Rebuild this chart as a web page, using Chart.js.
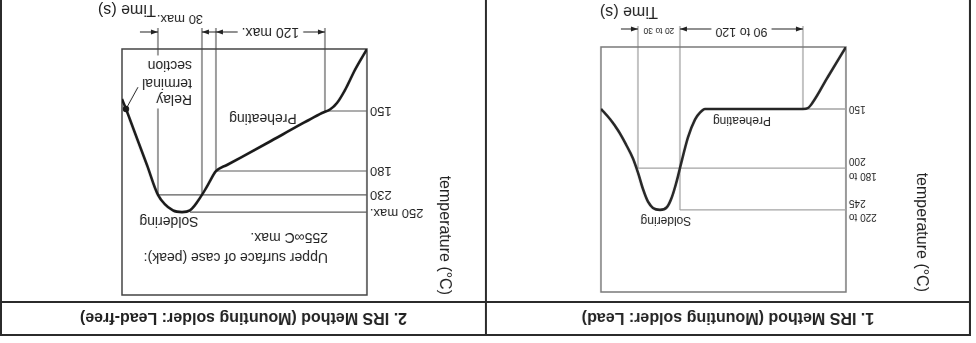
<!DOCTYPE html>
<html>
<head>
<meta charset="utf-8">
<script src="https://cdn.jsdelivr.net/npm/chart.js@4.4.1/dist/chart.umd.min.js"></script>
<style>
html, body { margin: 0; padding: 0; background: #fff; overflow: hidden; }
/* the source sheet is scanned upside down, so the whole page is turned */
#page { position: relative; width: 976px; height: 343px; background: #fff; transform: rotate(180deg);
        font-family: "Liberation Sans", Arial, sans-serif; }
canvas { position: absolute; top: 0; }
.frame { position: absolute; left: 5px; top: 7px; width: 971px; height: 400px; border: 2px solid #2b2b2b; box-sizing: border-box; }
.split { position: absolute; left: 489px; top: 7px; width: 2px; height: 400px; background: #2b2b2b; }
.bar { position: absolute; left: 5px; top: 40px; width: 971px; height: 2px; background: #2b2b2b; }
.title { position: absolute; top: 9px; height: 31px; line-height: 31px; text-align: center;
         font-weight: bold; font-size: 16px; color: #222; white-space: nowrap; }
</style>
</head>
<body>
<div id="page">
  <canvas id="lead" width="490" height="343" style="left:0;width:490px;height:343px"></canvas>
  <canvas id="leadfree" width="486" height="343" style="left:490px;width:486px;height:343px"></canvas>
  <div class="frame"></div><div class="split"></div><div class="bar"></div>
  <div class="title" style="left:7px;width:482px">1. IRS Method (Mounting solder: Lead)</div>
  <div class="title" style="left:491px;width:483px">2. IRS Method (Mounting solder: Lead-free)</div>
</div>
<script>
const FONT = '"Liberation Sans", Arial, sans-serif';

//* 1. lead solder profile (time in s, temperature in C)
const lead_time = [0, 18, 33, 38, 43, 141, 146, 151, 158, 166, 169, 174, 179, 186, 193, 198, 203, 208, 213, 220, 228, 236, 245];
const lead_temp = [25, 85, 136, 148, 150, 150, 153, 159, 174, 200, 213, 231, 242, 245, 243, 236, 222.5, 205, 192, 180, 168, 158.5, 150];
const lead_ticks = [150, 200, 245];
const lead_tick_labels = ['150', ['180 to', '200'], ['220 to', '245']];
const lead_level_end = [43, 208, 166];      // each level line runs from t=0 to here
const lead_guide_time = [43, 166, 208];
const lead_guide_temp = [150, 245, 200];
const lead_span_from = [43, 166];
const lead_span_to = [166, 208];
const lead_span_text = ['90 to 120', '20 to 30'];
const lead_note_text = ['Preheating', 'Soldering'];
const lead_note_time = [104, 180];
const lead_note_temp = [160, 252];

//* 2. lead-free solder profile
const free_time = [0, 12, 22, 30, 37, 45, 60, 96, 140, 151, 158, 165, 177, 185, 194, 209, 220, 232, 241, 245];
const free_temp = [25, 67, 108, 134, 147, 151, 155, 165, 177, 180, 205, 230, 248, 250, 248, 230, 177, 161, 146, 126];
const free_ticks = [150, 180, 230, 250];
const free_tick_labels = ['150', '180', '230', '250 max.'];
const free_level_end = [42, 151, 209, 177];
const free_guide_time = [42, 151, 165, 209];
const free_guide_temp = [150, 180, 230, 230];
const free_span_from = [42, 165];
const free_span_to = [151, 209];
const free_span_text = ['120 max.', '30 max.'];
const free_note_text = ['Preheating', 'Soldering', 'Upper surface of case (peak):', '255∞C max.', 'Relay', 'terminal', 'section'];
const free_note_time = [104, 198, 39, 39, 175, 175, 175];
const free_note_temp = [153.5, 255, 277, 265, 126, 92.5, 57];
const free_marker_time = [241];
const free_marker_temp = [146];
const free_leader_time = [229, 241];
const free_leader_temp = [102, 146];

// the drawings are schematic: the temperature axis is not uniform
const axis_shape = {
    lead: {temp: [25, 150, 200, 245, 300], frac: [0, 0.253, 0.494, 0.665, 1]},
    leadfree: {temp: [25, 150, 180, 230, 250, 300], frac: [0, 0.252, 0.496, 0.593, 0.663, 1]}
};

const LinScale = Chart.LinearScale || Chart.registry.getScale('linear');
class SchematicScale extends LinScale {
    getPixelForValue(value) {
        const sh = axis_shape[this.chart.canvas.id];
        let i = 1;
        while (i < sh.temp.length - 1 && value > sh.temp[i]) i++;
        const f = sh.frac[i - 1] + (value - sh.temp[i - 1]) / (sh.temp[i] - sh.temp[i - 1]) * (sh.frac[i] - sh.frac[i - 1]);
        return this.bottom - f * (this.bottom - this.top);
    }
    getValueForPixel(pixel) {
        const sh = axis_shape[this.chart.canvas.id];
        const f = (this.bottom - pixel) / (this.bottom - this.top);
        let i = 1;
        while (i < sh.frac.length - 1 && f > sh.frac[i]) i++;
        return sh.temp[i - 1] + (f - sh.frac[i - 1]) / (sh.frac[i] - sh.frac[i - 1]) * (sh.temp[i] - sh.temp[i - 1]);
    }
}
SchematicScale.id = 'schematic';
SchematicScale.defaults = {};
Chart.register(SchematicScale);

const lead_style = {
    pad: {left: 0, right: 115, top: 51, bottom: 47}, axis_w: 130, title_pad: 45,
    tick_size: 10, tick_lh: 1.45, note_size: 12, note_align: ['center', 'center'], note_bg: [0, 0],
    box: '#7a7a7a', box_w: 1.5, line: '#a3a3a3', line_w: 1.3, curve: '#262626',
    span_y: 18, spans: [{kind: 'in', size: 12.5, dy: -2}, {kind: 'out', size: 8.5, dy: -1, left: 0, right: 17}],
    time_dx: 1, time_dy: 36
};
const free_style = {
    pad: {left: 0, right: 122, top: 48, bottom: 49}, axis_w: 119, title_pad: 32,
    tick_size: 13, tick_lh: 1.2, note_size: 14,
    note_align: ['center', 'center', 'left', 'left', 'left', 'left', 'left'], note_bg: [0, 0, 0, 0, 1, 1, 1],
    box: '#444', box_w: 1.5, line: '#5c5c5c', line_w: 1.2, curve: '#1a1a1a',
    span_y: 17, spans: [{kind: 'in', size: 14, dy: 0}, {kind: 'out', size: 13, dy: 13, left: 14, right: 18}],
    time_dx: 24, time_dy: 40
};

function seg(ctx, xa, xb, y) {
    ctx.beginPath(); ctx.moveTo(xa, y); ctx.lineTo(xb, y); ctx.stroke();
}
function head(ctx, tip, y, dir) {
    ctx.beginPath();
    ctx.moveTo(tip, y);
    ctx.lineTo(tip - dir * 7, y - 2.5);
    ctx.lineTo(tip - dir * 7, y + 2.5);
    ctx.closePath();
    ctx.fill();
}

function panel_plugin(d, s) {
    return {
        id: 'panel_extras',
        beforeDatasetsDraw(chart) {
            const {ctx, chartArea: a} = chart;
            const xs = chart.scales.x, ys = chart.scales.y;
            ctx.save();
            ctx.strokeStyle = s.line; ctx.lineWidth = s.line_w;
            d.guide_time.forEach((t, i) => {
                const gx = xs.getPixelForValue(t);
                ctx.beginPath();
                ctx.moveTo(gx, ys.getPixelForValue(d.guide_temp[i]));
                ctx.lineTo(gx, a.bottom + 21);
                ctx.stroke();
            });
            ctx.strokeStyle = s.box; ctx.lineWidth = s.box_w;
            ctx.strokeRect(a.left, a.top, a.right - a.left, a.bottom - a.top);
            ctx.restore();
        },
        afterDatasetsDraw(chart) {
            const {ctx, chartArea: a} = chart;
            const xs = chart.scales.x, ys = chart.scales.y;
            ctx.save();
            ctx.fillStyle = '#222'; ctx.strokeStyle = '#222'; ctx.lineWidth = 1;
            ctx.textBaseline = 'middle';
            d.note_text.forEach((txt, i) => {
                ctx.font = s.note_size + 'px ' + FONT;
                ctx.textAlign = s.note_align[i];
                const nx = xs.getPixelForValue(d.note_time[i]);
                const ny = ys.getPixelForValue(d.note_temp[i]);
                if (s.note_bg[i]) {
                    const w = ctx.measureText(txt).width;
                    ctx.fillStyle = '#fff';
                    ctx.fillRect(nx - 2, ny - s.note_size * 0.6 - 1, w + 4, s.note_size * 1.2 + 2);
                    ctx.fillStyle = '#222';
                }
                ctx.fillText(txt, nx, ny);
            });
            const yy = a.bottom + s.span_y;
            d.span_text.forEach((txt, i) => {
                const st = s.spans[i];
                const x1 = xs.getPixelForValue(d.span_from[i]);
                const x2 = xs.getPixelForValue(d.span_to[i]);
                ctx.font = st.size + 'px ' + FONT;
                ctx.textAlign = 'center';
                const cx = (x1 + x2) / 2, w = ctx.measureText(txt).width;
                ctx.fillText(txt, cx, yy + st.dy);
                if (st.kind === 'in') {
                    seg(ctx, x1, cx - w / 2 - 4, yy); seg(ctx, cx + w / 2 + 4, x2, yy);
                    head(ctx, x1, yy, -1); head(ctx, x2, yy, 1);
                } else {
                    if (st.left) { seg(ctx, x1 - st.left, x1, yy); head(ctx, x1, yy, 1); }
                    if (st.right) { seg(ctx, x2, x2 + st.right, yy); head(ctx, x2, yy, -1); }
                }
            });
            ctx.font = '16px ' + FONT;
            ctx.textAlign = 'right';
            ctx.fillText('Time (s)', a.right + s.time_dx, a.bottom + s.time_dy);
            ctx.restore();
        }
    };
}

function make_chart(id, d, s) {
    const pts = (ts, vs) => ts.map((t, i) => ({x: t, y: vs[i]}));
    const datasets = [{
        data: pts(d.time, d.temp), borderColor: s.curve, borderWidth: 2.6,
        pointRadius: 0, cubicInterpolationMode: 'monotone'
    }];
    if (d.leader_time) {
        datasets.push({data: pts(d.leader_time, d.leader_temp), borderColor: '#222', borderWidth: 1, pointRadius: 0});
        datasets.push({data: pts(d.marker_time, d.marker_temp), showLine: false, pointRadius: 3.2,
                       pointBackgroundColor: '#1a1a1a', pointBorderWidth: 0});
    }
    d.ticks.forEach((T, i) => {
        datasets.push({data: [{x: 0, y: T}, {x: d.level_end[i], y: T}],
                       borderColor: s.line, borderWidth: s.line_w, pointRadius: 0});
    });
    return new Chart(document.getElementById(id), {
        type: 'line',
        data: {datasets: datasets},
        options: {
            responsive: false,
            animation: false,
            events: [],
            layout: {padding: s.pad},
            plugins: {legend: {display: false}, tooltip: {enabled: false}},
            scales: {
                x: {type: 'linear', display: false, min: 0, max: 245},
                y: {
                    type: 'schematic', min: 25, max: 300,
                    afterFit: (sc) => { sc.width = s.axis_w; },
                    afterBuildTicks: (sc) => { sc.ticks = d.ticks.map(v => ({value: v})); },
                    grid: {display: false, drawTicks: false},
                    border: {display: false},
                    ticks: {
                        autoSkip: false, padding: 3, color: '#222',
                        font: {family: FONT, size: s.tick_size, lineHeight: s.tick_lh},
                        callback: (v) => d.tick_labels[d.ticks.indexOf(v)]
                    },
                    title: {
                        display: true, text: 'temperature (°C)', align: 'end', color: '#222',
                        font: {family: FONT, size: 16}, padding: {top: s.title_pad, bottom: 0}
                    }
                }
            }
        },
        plugins: [panel_plugin(d, s)]
    });
}

make_chart('lead', {
    time: lead_time, temp: lead_temp, ticks: lead_ticks, tick_labels: lead_tick_labels,
    level_end: lead_level_end, guide_time: lead_guide_time, guide_temp: lead_guide_temp,
    span_from: lead_span_from, span_to: lead_span_to, span_text: lead_span_text,
    note_text: lead_note_text, note_time: lead_note_time, note_temp: lead_note_temp
}, lead_style);

make_chart('leadfree', {
    time: free_time, temp: free_temp, ticks: free_ticks, tick_labels: free_tick_labels,
    level_end: free_level_end, guide_time: free_guide_time, guide_temp: free_guide_temp,
    span_from: free_span_from, span_to: free_span_to, span_text: free_span_text,
    note_text: free_note_text, note_time: free_note_time, note_temp: free_note_temp,
    marker_time: free_marker_time, marker_temp: free_marker_temp,
    leader_time: free_leader_time, leader_temp: free_leader_temp
}, free_style);
</script>
</body>
</html>
